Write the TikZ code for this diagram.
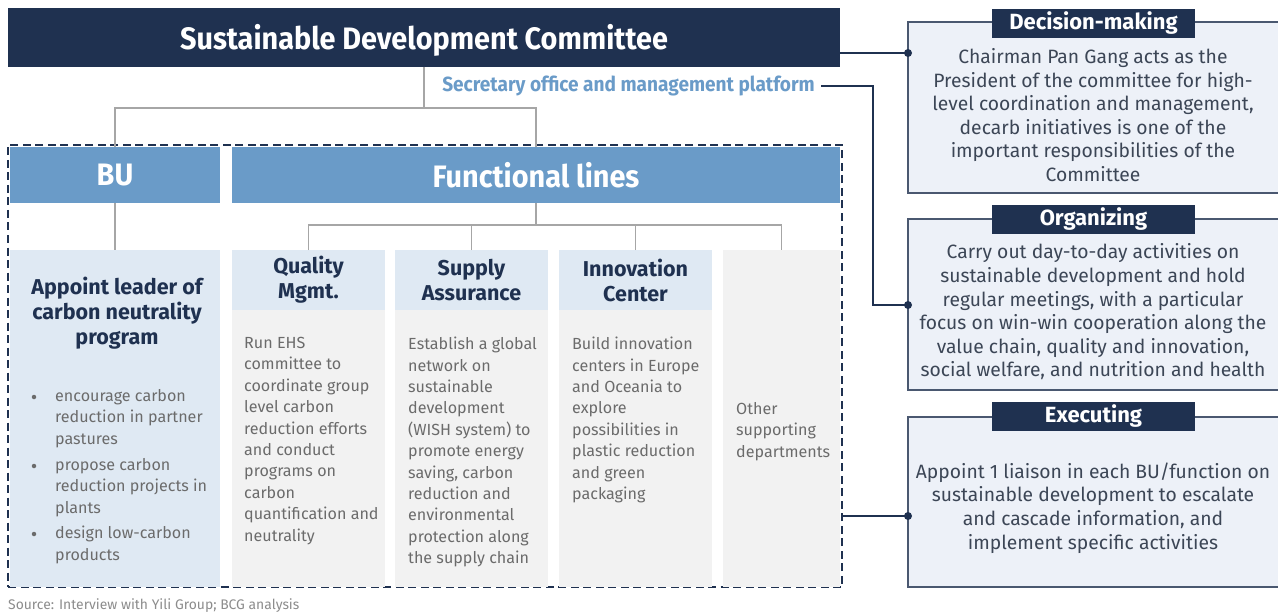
\documentclass[tikz,border=0pt]{standalone}
\usepackage{fontspec}
\setmainfont{Fira Sans}
\newfontfamily\condfont[FakeStretch=0.93]{Fira Sans}
\definecolor{navy}{HTML}{1F3150}
\definecolor{midblue}{HTML}{6A9BC8}
\definecolor{paleblue}{HTML}{DFE9F3}
\definecolor{palegray}{HTML}{F2F2F2}
\definecolor{boxfill}{HTML}{EDF1F8}
\definecolor{boxborder}{HTML}{4A5870}
\definecolor{txtgray}{HTML}{6B6B6B}
\definecolor{txtdark}{HTML}{3C4656}
\definecolor{linegray}{HTML}{A6A6A6}
\definecolor{srcgray}{HTML}{8C8C8C}
\tikzset{
  area/.style={draw=none, inner sep=0pt, outer sep=0pt, anchor=north west},
  glink/.style={draw=linegray, line width=1.6pt},
  nlink/.style={draw=navy, line width=1.8pt},
  dotend/.style={fill=navy, circle, inner sep=0pt, minimum size=8pt},
  headtxt/.style={font=\condfont\bfseries\fontsize{31}{34}\selectfont, text=white},
  colhead/.style={font=\bfseries\fontsize{21.5}{25}\selectfont, text=navy, align=center},
  coltxt/.style={font=\fontsize{16.1}{21.4}\selectfont, text=txtgray, align=left, inner sep=0pt, anchor=north west},
  bulletdot/.style={circle, fill=txtgray, inner sep=0pt, minimum size=4.5pt},
  rbox/.style={area, draw=boxborder, fill=boxfill, line width=1.2pt, minimum width=372pt},
  rlabel/.style={fill=navy, minimum width=203pt, minimum height=29pt, inner sep=0pt, text=white, font=\bfseries\fontsize{22}{24}\selectfont},
  rtxt/.style={font=\fontsize{19.3}{23.6}\selectfont, text=txtdark, align=center},
}
\begin{document}
\begin{tikzpicture}[x=1pt,y=-1pt]
\useasboundingbox (0,0) rectangle (1278,615);

% top committee
\node[area, fill=navy, minimum width=832pt, minimum height=59pt] (sdc) at (8,8) {};
\node[headtxt, inner sep=0pt] (sdct) at ([yshift=-3pt]sdc.center) {Sustainable Development Committee};

% secretary
\node[anchor=east, inner sep=0pt, text=midblue, font=\condfont\bfseries\fontsize{20.5}{22}\selectfont] (sec) at (815,86) {Secretary office and management platform};

% frame
\node[area, draw=navy, dash pattern=on 8pt off 4.5pt, line width=2.7pt, minimum width=834pt, minimum height=442pt] (frame) at (8,145) {};

% BU and functional lines headers
\node[area, fill=midblue, minimum width=210pt, minimum height=56pt, headtxt] (buh) at (10,147) {BU};
\node[area, fill=midblue, minimum width=608pt, minimum height=56pt, headtxt] (flh) at (232,147) {Functional lines};

% BU body
\node[area, fill=paleblue, minimum width=210pt, minimum height=337pt] (bub) at (10,250) {};
\node[colhead] (bubt) at (117,313) {Appoint leader of\\carbon neutrality\\program};
\node[bulletdot] (b1) at (34,397) {};
\node[bulletdot] (b2) at (34,466) {};
\node[bulletdot] (b3) at (34,534) {};
\node[coltxt] (t1) at (55,389) {encourage carbon\\reduction in partner\\pastures};
\node[coltxt] (t2) at (55,458) {propose carbon\\reduction projects in\\plants};
\node[coltxt] (t3) at (55,526) {design low-carbon\\products};

% functional columns
\node[area, fill=paleblue, minimum width=153pt, minimum height=60pt, colhead] (qh) at (232,250) {Quality\\Mgmt.};
\node[area, fill=palegray, minimum width=153pt, minimum height=277pt] (qb) at (232,310) {};
\node[area, fill=paleblue, minimum width=153pt, minimum height=60pt, colhead] (sh) at (395,250) {Supply\\Assurance};
\node[area, fill=palegray, minimum width=153pt, minimum height=277pt] (sb) at (395,310) {};
\node[area, fill=paleblue, minimum width=153pt, minimum height=60pt, colhead] (ih) at (559,250) {Innovation\\Center};
\node[area, fill=palegray, minimum width=153pt, minimum height=277pt] (ib) at (559,310) {};
\node[area, fill=palegray, minimum width=117pt, minimum height=337pt] (ob) at (723,250) {};

\node[coltxt] (qt) at (244,337) {Run EHS\\committee to\\coordinate group\\level carbon\\reduction efforts\\and conduct\\programs on\\carbon\\quantification and\\neutrality};
\node[coltxt] (st) at (408,337) {Establish a global\\network on\\sustainable\\development\\(WISH system) to\\promote energy\\saving, carbon\\reduction and\\environmental\\protection along\\the supply chain};
\node[coltxt] (it) at (572,337) {Build innovation\\centers in Europe\\and Oceania to\\explore\\possibilities in\\plastic reduction\\and green\\packaging};
\node[coltxt] (ot) at (736,402) {Other\\supporting\\departments};

% gray tree connectors
\draw[glink] (sdc.south) -- ++(0,41) coordinate (j1);
\draw[glink] (buh.north) |- (j1) -| (flh.north);
\draw[glink] (buh.south) -- (bub.north);
\draw[glink] (flh.south) -- ++(0,22) coordinate (j2);
\draw[glink] (qh.north) |- (j2) -| (ob.north);
\draw[glink] (sh.north) -- (sh.north |- j2);
\draw[glink] (ih.north) -- (ih.north |- j2);

% right boxes
\node[rbox, minimum height=171pt] (dec) at (908,22) {};
\node[rbox, minimum height=171pt] (org) at (908,219) {};
\node[rbox, minimum height=170pt] (exe) at (908,417) {};
\node[rlabel] (decl) at (1093.5,23.5) {Decision-making};
\node[rlabel] (orgl) at (1093.5,219.5) {Organizing};
\node[rlabel] (exel) at (1093.5,416.5) {Executing};
\node[rtxt] (dect) at (1093,115) {Chairman Pan Gang acts as the\\President of the committee for high-\\level coordination and management,\\decarb initiatives is one of the\\important responsibilities of the\\Committee};
\node[rtxt] (orgt) at (1093,312) {Carry out day-to-day activities on\\sustainable development and hold\\regular meetings, with a particular\\focus on win-win cooperation along the\\value chain, quality and innovation,\\social welfare, and nutrition and health};
\node[rtxt] (exet) at (1093,508) {Appoint 1 liaison in each BU/function on\\sustainable development to escalate\\and cascade information, and\\implement specific activities};

% navy connectors
\coordinate (decdot) at (908,53);
\coordinate (orgdot) at (908,305);
\coordinate (exedot) at (908,516);
\draw[nlink] (sdc.east |- decdot) -- (decdot);
\draw[nlink] ([xshift=6pt]sec.east) -- ++(52,0) |- (orgdot);
\draw[nlink] (frame.east |- exedot) -- (exedot);
\node[dotend] at (decdot) {};
\node[dotend] at (orgdot) {};
\node[dotend] at (exedot) {};

% source
\node[anchor=west, inner sep=0pt, text=srcgray, font=\fontsize{13.9}{15}\selectfont] (src) at (8,606) {Source: Interview with Yili Group; BCG analysis};
\end{tikzpicture}
\end{document}
